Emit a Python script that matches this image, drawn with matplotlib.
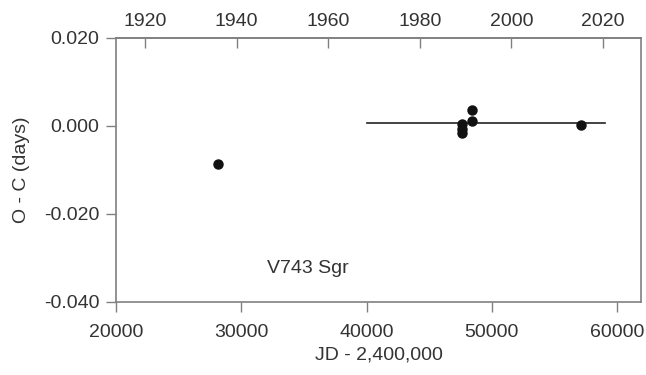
import matplotlib
matplotlib.use("Agg")
import matplotlib.pyplot as plt
import numpy as np

plt.rcParams['font.family'] = ['Liberation Sans', 'DejaVu Sans']

jd = [28100, 47640, 47640, 47640, 48400, 48400, 57120]
oc = [-0.0086, 0.0005, -0.0007, -0.0016, 0.0036, 0.0011, 0.0002]
fit_x = [40000, 59000]
fit_y = [0.0007, 0.0007]
xticks = [20000, 30000, 40000, 50000, 60000]
yticks = [-0.040, -0.020, 0.000, 0.020]
ytick_labels = ["-0.040", "-0.020", "0.000", "0.020"]
year_ticks = [1920, 1940, 1960, 1980, 2000, 2020]

fig = plt.figure(figsize=(6.46, 3.75), dpi=100)
ax = fig.add_axes([0.1796, 0.1947, 0.8127, 0.704])
spine_c = '#808080'
text_c = '#333333'

ax.plot(fit_x, fit_y, color='#222222', lw=1.2, zorder=2)
ax.plot(jd, oc, 'o', color='#111111', ms=6.5, zorder=3)
ax.text(32050, -0.0325, "V743 Sgr", fontsize=14, color=text_c, va='center')

ax.set_xlim(20000, 61900)
ax.set_ylim(-0.040, 0.020)
ax.set_xticks(xticks)
ax.set_xticklabels([str(v) for v in xticks])
ax.set_yticks(yticks)
ax.set_yticklabels(ytick_labels)
ax.set_xlabel("JD - 2,400,000", fontsize=14, color=text_c, labelpad=4)
ax.set_ylabel("O - C (days)", fontsize=14, color=text_c, labelpad=10)
ax.tick_params(axis='both', labelsize=14, colors=spine_c, labelcolor=text_c, length=7, width=1, pad=5)
ax.tick_params(axis='x', pad=9)
for s in ax.spines.values():
    s.set_color(spine_c)
    s.set_linewidth(1.2)

def jd2yr(x):
    return 2000 + (np.asarray(x) - 51545) / 365.25

def yr2jd(y):
    return 51545 + (np.asarray(y) - 2000) * 365.25

sec = ax.secondary_xaxis('top', functions=(jd2yr, yr2jd))
sec.set_xticks(year_ticks)
sec.set_xticklabels([str(v) for v in year_ticks])
sec.tick_params(direction='in', length=7, width=1, labelsize=14, colors=spine_c, labelcolor=text_c, pad=6)
sec.spines['top'].set_color(spine_c)
sec.spines['top'].set_linewidth(1.2)

fig.savefig("out.png", dpi=100)
